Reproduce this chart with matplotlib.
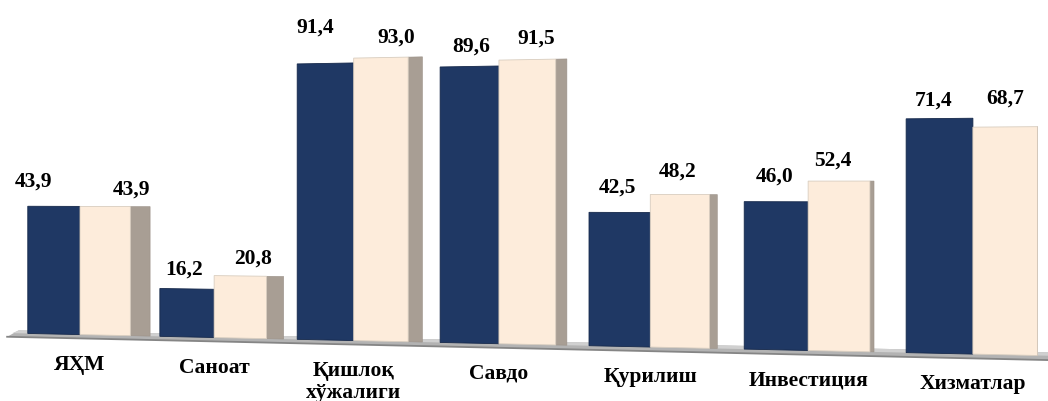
import numpy as np
import matplotlib
matplotlib.use('Agg')
import matplotlib.pyplot as plt
from matplotlib.transforms import Transform
from matplotlib.path import Path

# ---------------- data ----------------
categories = ['ЯҲМ', 'Саноат', 'Қишлоқ\nхўжалиги', 'Савдо', 'Қурилиш', 'Инвестиция', 'Хизматлар']
series_a = [43.9, 16.2, 91.4, 89.6, 42.5, 46.0, 71.4]
series_b = [43.9, 20.8, 93.0, 91.5, 48.2, 52.4, 68.7]

# label nudges (pixels): horizontal shift and height of baseline above bar top
off_a_dx = [-20, -3, -10, 2, -2, -1, -6]
off_a_dy = [20, 14, 31, 15, 20, 20, 13]
off_b_dx = [26, 13, 15, 9, -2, -6, 0]
off_b_dy = [12, 12, 15, 16, 18, 15, 23]

DARK = '#1f3864'
LIGHT = '#fdecdb'
SIDE = '#a89e94'
FONT = ['Liberation Serif', 'DejaVu Serif']


class Perspective(Transform):
    """Projective mapping of the chart plane into the pixel frame."""
    input_dims = 2
    output_dims = 2
    is_separable = False
    has_inverse = False

    def __init__(self, a, c, g, d, e, f):
        super().__init__()
        self.p = (a, c, g, d, e, f)

    def transform_non_affine(self, values):
        a, c, g, d, e, f = self.p
        v = np.asarray(values, dtype=float).reshape(-1, 2)
        x, y = v[:, 0], v[:, 1]
        w = 1.0 + g * x
        return np.column_stack([(a * x + c) / w, (d * x + e * y + f) / w])

    def transform_path_non_affine(self, path):
        return Path(self.transform_non_affine(path.vertices), path.codes)


fig = plt.figure(figsize=(10.48, 4.01), dpi=100)
ax = fig.add_axes([0, 0, 1, 1])
ax.set_autoscale_on(False)
ax.set_xlim(0, 1048)
ax.set_ylim(401, 0)
ax.set_axis_off()

T = Perspective(130.0, 80.0, -0.01934, -3.6, -2.92, 334.6) + ax.transData

n = len(categories)
x = np.arange(n)
wa, wb = 0.40, 0.38

# floor
fx = [-0.56, n - 0.3, n - 0.25, -0.47]
fy = [-1.3, -1.3, 1.0, 1.0]
ax.fill(fx, fy, transform=T, color='#b3b3b3', zorder=1, lw=0)
ax.fill([-0.52, n - 0.28, n - 0.25, -0.47], [0.0, 0.0, 1.0, 1.0], transform=T,
        color='#d0d0d0', zorder=1, lw=0)
ax.plot([-0.56, n - 0.3], [-1.3, -1.3], transform=T, color='#858585', lw=1.3, zorder=1)

# bars
xa = x - wa / 2
xb = x + wb / 2
ax.bar(xa, series_a, width=wa, color=DARK, edgecolor='#15284a', linewidth=0.6,
       transform=T, zorder=3)
ax.bar(xb, series_b, width=wb, color=LIGHT, edgecolor='#d8cdbf', linewidth=0.6,
       transform=T, zorder=3)
xr = x + wb
side_w = np.clip(0.0245 * (6.4 - xr), 0, None)
ax.bar(xr, series_b, width=side_w, align='edge', color=SIDE, edgecolor='#9a9087',
       linewidth=0.4, transform=T, zorder=2)

def fmt(v):
    return f'{v:.1f}'.replace('.', ',')

txt = dict(fontsize=15.5, fontweight='bold', family=FONT, color='black',
           ha='center', va='baseline', textcoords='offset pixels', zorder=5)

for i in range(n):
    ax.annotate(fmt(series_a[i]), xy=(xa[i], series_a[i]), xycoords=T,
                xytext=(off_a_dx[i], off_a_dy[i]), **txt)
    ax.annotate(fmt(series_b[i]), xy=(xb[i], series_b[i]), xycoords=T,
                xytext=(off_b_dx[i], off_b_dy[i]), **txt)
    for k, line in enumerate(categories[i].split('\n')):
        ax.annotate(line, xy=(x[i], 0), xycoords=T, xytext=(0, -35 - 22 * k), **txt)

fig.savefig('out.png', dpi=100)
